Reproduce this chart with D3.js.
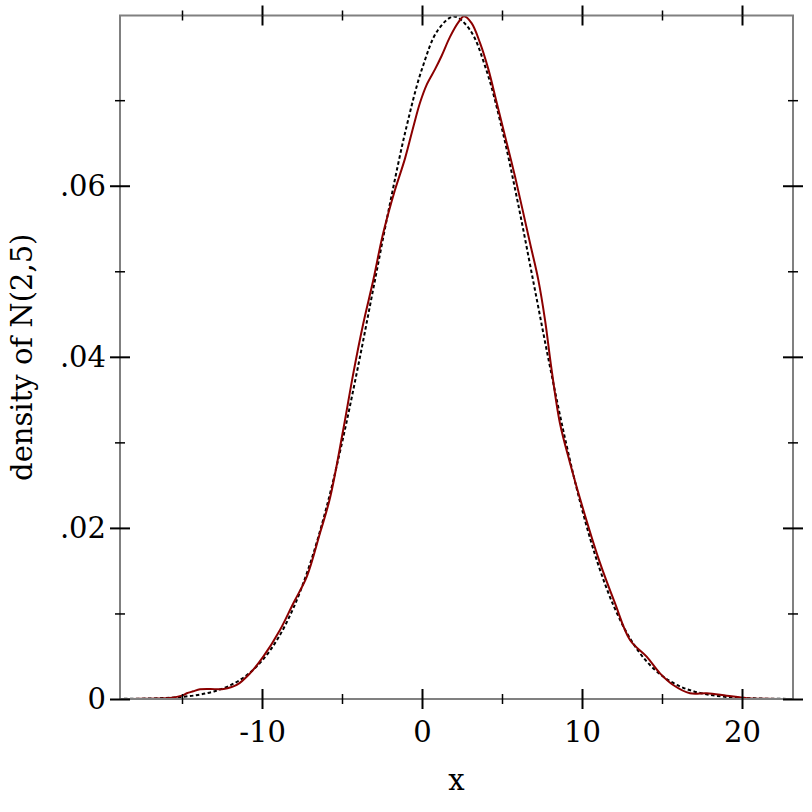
<!DOCTYPE html>
<html>
<head>
<meta charset="utf-8">
<script src="https://cdn.jsdelivr.net/npm/d3@7"></script>
<style>
  html, body { margin: 0; padding: 0; background: #fff; }
  svg { display: block; }
  text { font-family: "DejaVu Serif", serif; }
</style>
</head>
<body>
<svg id="chart" width="812" height="812"></svg>
<script>
// ---- data ----
const xMajorTicks = [-10, 0, 10, 20];
const xTickLabels = ["-10", "0", "10", "20"];
const xMinorTicks = [-15, -5, 5, 15];
const yMajorTicks = [0, 0.02, 0.04, 0.06];
const yTickLabels = ["0", ".02", ".04", ".06"];
const yMinorTicks = [0.01, 0.03, 0.05, 0.07];
const xDomain = [-18.875, 23.1875];
const yDomain = [0, 0.0799];
const xLabel = "x";
const yLabel = "density of N(2,5)";

// reference density (dashed)
const normX = [-19,-18,-17,-16,-15,-14,-13,-12,-11,-10,-9,-8,-7,-6,-5,-4,-3,-2,-1,0,1,2,3,4,5,6,7,8,9,10,11,12,13,14,15,16,17,18,19,20,21,22,23];
const normY = [0.0000118,0.0000267,0.0000583,0.000122,0.000247,0.000477,0.000886,0.001583,0.002717,0.004479,0.007095,0.010798,0.015790,0.022184,0.029945,0.038837,0.048394,0.057938,0.066645,0.073654,0.078208,0.079788,0.078208,0.073654,0.066645,0.057938,0.048394,0.038837,0.029945,0.022184,0.015790,0.010798,0.007095,0.004479,0.002717,0.001583,0.000886,0.000477,0.000247,0.000122,0.0000583,0.0000267,0.0000118];

// estimated density (red)
const kdeX = [-18.875,-17.5,-16.5,-15.75,-15.0,-14.7,-14.3,-13.875,-13.25,-12.4,-11.58,-10.75,-9.92,-8.875,-8.04,-7.2,-6.375,-5.75,-4.92,-4.29,-3.67,-3.04,-2.52,-2.1,-1.69,-1.06,-0.54,-0.125,0.29,0.81,1.23,1.75,2.27,2.625,3.1,3.625,4.15,4.67,5.19,5.81,6.75,7.27,7.69,8.1,8.625,9.25,10.1,11.07,12.06,13.0,14.04,14.875,15.7,16.75,17.8,19.04,20.3,21.5,23.1875];
const kdeY = [0,0.00002,0.00005,0.00012,0.0004,0.00067,0.0009,0.00113,0.00117,0.00117,0.00164,0.0030,0.00495,0.00807,0.0112,0.0143,0.0194,0.0235,0.0315,0.0381,0.0439,0.0490,0.0537,0.0568,0.0595,0.0632,0.0669,0.0697,0.0718,0.0736,0.0752,0.0774,0.0791,0.0798,0.0790,0.0767,0.0736,0.0697,0.0658,0.0611,0.0533,0.0490,0.0443,0.0385,0.0322,0.0276,0.0220,0.0162,0.0112,0.0069,0.00495,0.0030,0.00164,0.00067,0.00067,0.00039,0.0001,0.00002,0];

// ---- layout ----
const L = 120, R = 793, T = 15.5, B = 699;
const svg = d3.select("#chart");
const x = d3.scaleLinear().domain(xDomain).range([L, R]);
const y = d3.scaleLinear().domain(yDomain).range([B, T]);

svg.append("defs").append("clipPath").attr("id", "clip")
  .append("rect").attr("x", L).attr("y", T - 2).attr("width", R - L).attr("height", B - T + 2);

const line = d3.line().x(d => x(d[0])).y(d => y(d[1])).curve(d3.curveCatmullRom.alpha(0.5));

const plot = svg.append("g").attr("clip-path", "url(#clip)");
plot.append("path")
  .datum(normX.map((v, i) => [v, normY[i]]))
  .attr("d", line).attr("fill", "none")
  .attr("stroke", "#000").attr("stroke-width", 2).attr("stroke-dasharray", "3.5,2.5");
plot.append("path")
  .datum(kdeX.map((v, i) => [v, kdeY[i]]))
  .attr("d", line).attr("fill", "none")
  .attr("stroke", "#8b0000").attr("stroke-width", 2);

// border
svg.append("rect").attr("x", L).attr("y", T).attr("width", R - L).attr("height", B - T)
  .attr("fill", "none").attr("stroke", "#808080").attr("stroke-width", 2);

function styleAxis(g, width) {
  g.select(".domain").remove();
  g.selectAll(".tick line").attr("stroke", "#000").attr("stroke-width", width);
  g.selectAll("text").attr("font-family", "DejaVu Serif").attr("font-size", 29).attr("fill", "#000");
}

// bottom axis
svg.append("g").attr("transform", `translate(0,${B})`)
  .call(d3.axisBottom(x).tickValues(xMajorTicks).tickFormat((d, i) => xTickLabels[i]).tickSize(10).tickPadding(12))
  .call(g => styleAxis(g, 2));
svg.append("g").attr("transform", `translate(0,${B})`)
  .call(d3.axisBottom(x).tickValues(xMajorTicks).tickFormat("").tickSize(-10))
  .call(g => styleAxis(g, 2));
[[B, 1], [T, -1]].forEach(([pos, s]) => {
  [5, -5].forEach(ts => {
    svg.append("g").attr("transform", `translate(0,${pos})`)
      .call(d3.axisBottom(x).tickValues(xMinorTicks).tickFormat("").tickSize(ts))
      .call(g => styleAxis(g, 1.5));
  });
});
// top axis major
[10, -10].forEach(ts => {
  svg.append("g").attr("transform", `translate(0,${T})`)
    .call(d3.axisTop(x).tickValues(xMajorTicks).tickFormat("").tickSize(ts))
    .call(g => styleAxis(g, 2));
});

// left axis
svg.append("g").attr("transform", `translate(${L},0)`)
  .call(d3.axisLeft(y).tickValues(yMajorTicks).tickFormat((d, i) => yTickLabels[i]).tickSize(10).tickPadding(4))
  .call(g => styleAxis(g, 2));
svg.append("g").attr("transform", `translate(${L},0)`)
  .call(d3.axisLeft(y).tickValues(yMajorTicks).tickFormat("").tickSize(-10))
  .call(g => styleAxis(g, 2));
// right axis major
[10, -10].forEach(ts => {
  svg.append("g").attr("transform", `translate(${R},0)`)
    .call(d3.axisRight(y).tickValues(yMajorTicks).tickFormat("").tickSize(ts))
    .call(g => styleAxis(g, 2));
});
// minor y ticks both sides
[L, R].forEach(pos => {
  [5, -5].forEach(ts => {
    svg.append("g").attr("transform", `translate(${pos},0)`)
      .call(d3.axisLeft(y).tickValues(yMinorTicks).tickFormat("").tickSize(ts))
      .call(g => styleAxis(g, 1.5));
  });
});

// axis labels
svg.append("text").attr("x", (L + R) / 2).attr("y", 790)
  .attr("text-anchor", "middle").attr("font-size", 29).text(xLabel);
svg.append("text").attr("transform", `translate(32,${(T + B) / 2}) rotate(-90)`)
  .attr("text-anchor", "middle").attr("font-size", 29).text(yLabel);
</script>
</body>
</html>
